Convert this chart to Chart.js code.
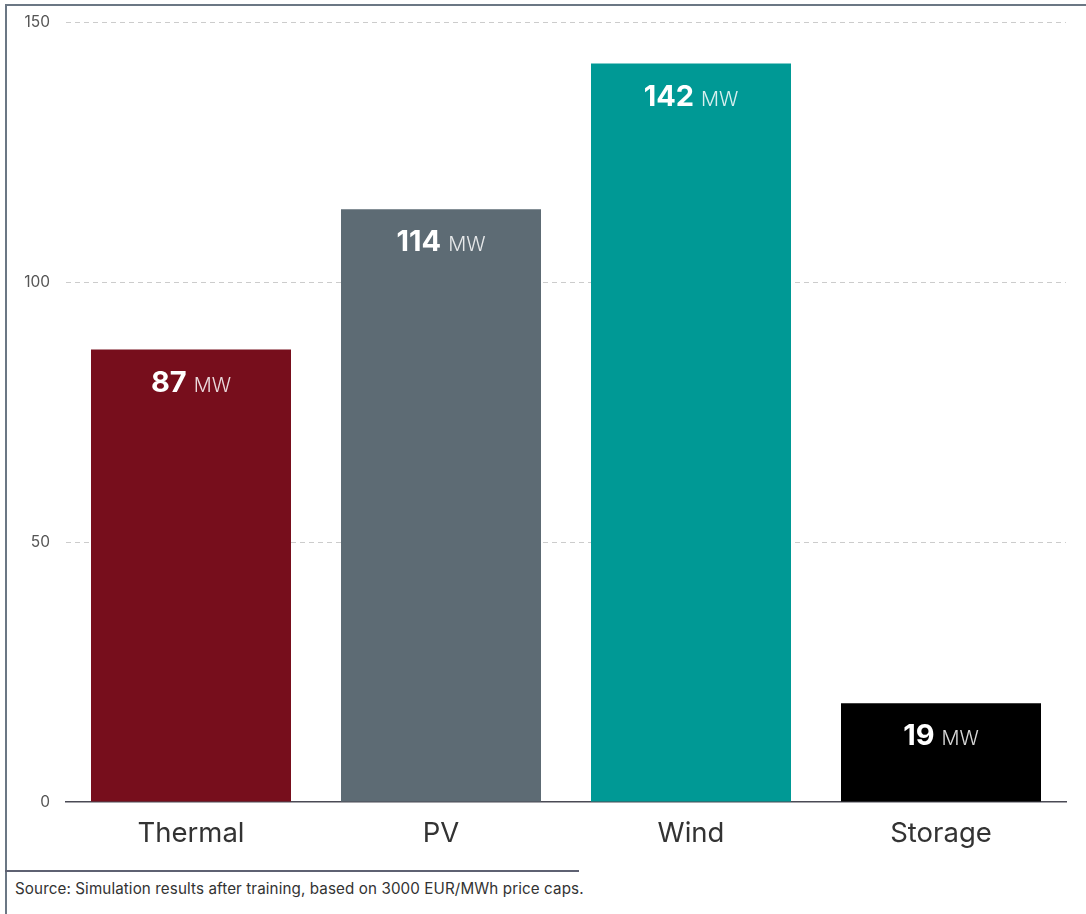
<!DOCTYPE html>
<html>
<head>
<meta charset="utf-8">
<script src="https://cdn.jsdelivr.net/npm/chart.js@4.4.1/dist/chart.umd.min.js"></script>
<style>
  html, body { margin: 0; padding: 0; background: #fff; }
  body { width: 1086px; height: 914px; position: relative; overflow: hidden; font-family: Inter, "Open Sans", sans-serif; }
  #frameTop { position: absolute; left: 5px; top: 4px; width: 1081px; height: 2px; background: #6b7784; }
  #frameLeft { position: absolute; left: 5px; top: 4px; width: 2px; height: 910px; background: #6b7784; }
  #frameBottom { position: absolute; left: 5px; top: 870px; width: 574px; height: 2px; background: #5e6172; }
  #wrap { position: absolute; left: 0; top: 0; width: 1086px; height: 860px; }
  #source { position: absolute; left: 15px; top: 879px; font-size: 15.2px; color: #333; font-family: Inter, sans-serif; letter-spacing: 0.1px; }
</style>
</head>
<body>
<div id="frameTop"></div>
<div id="frameLeft"></div>
<div id="frameBottom"></div>
<div id="wrap"><canvas id="c" width="1086" height="860"></canvas></div>
<div id="source">Source: Simulation results after training, based on 3000 EUR/MWh price caps.</div>
<script>
const categories = ["Thermal", "PV", "Wind", "Storage"];
const capacityMW = [87, 114, 142, 19];
const barColors = ["#770e1c", "#5d6b74", "#009995", "#000000"];
const unitLabel = "MW";
const yTicks = [0, 50, 100, 150];

const valueLabels = {
  id: 'valueLabels',
  afterDatasetsDraw(chart) {
    const ctx = chart.ctx;
    const meta = chart.getDatasetMeta(0);
    const ds = chart.data.datasets[0];
    meta.data.forEach((bar, i) => {
      const num = String(ds.data[i]);
      ctx.save();
      ctx.textBaseline = 'alphabetic';
      ctx.textAlign = 'left';
      ctx.font = 'bold 29px Inter, sans-serif';
      const w1 = ctx.measureText(num).width;
      ctx.font = '300 20px Inter, sans-serif';
      const gap = 7;
      const w2 = ctx.measureText(unitLabel).width;
      const total = w1 + gap + w2;
      const x0 = bar.x - total / 2;
      const yb = bar.y + 42;
      ctx.fillStyle = '#ffffff';
      ctx.font = 'bold 29px Inter, sans-serif';
      ctx.fillText(num, x0, yb);
      ctx.fillStyle = 'rgba(255,255,255,0.85)';
      ctx.font = '300 20px Inter, sans-serif';
      ctx.fillText(unitLabel, x0 + w1 + gap, yb);
      ctx.restore();
    });
  }
};

new Chart(document.getElementById('c'), {
  type: 'bar',
  data: {
    labels: categories,
    datasets: [{
      data: capacityMW,
      backgroundColor: barColors,
      borderWidth: 0,
      barPercentage: 0.8,
      categoryPercentage: 1.0
    }]
  },
  options: {
    responsive: false,
    animation: false,
    devicePixelRatio: 1,
    layout: { padding: { left: 0, right: 20, top: 22, bottom: 0 } },
    plugins: { legend: { display: false }, tooltip: { enabled: false } },
    scales: {
      x: {
        grid: { display: false, drawTicks: false },
        border: { display: true, color: '#4a4a55', width: 1.5 },
        ticks: { color: '#333', font: { size: 27.5, family: 'Inter, sans-serif' }, padding: 15 },
        afterFit(scale) { scale.height = 58; scale.paddingLeft = 0; scale.paddingRight = 0; }
      },
      y: {
        min: 0, max: 150,
        afterBuildTicks(scale) { scale.ticks = yTicks.map(v => ({ value: v })); },
        grid: {
          color: (c) => c.tick && c.tick.value === 0 ? 'rgba(0,0,0,0)' : '#cccccc',
          drawTicks: false,
          lineWidth: 1
        },
        border: { display: false, dash: [5, 4] },
        ticks: { color: '#555', font: { size: 15.5, family: 'Inter, sans-serif' }, padding: 16 },
        afterFit(scale) { scale.width = 66; scale.paddingTop = 0; scale.paddingBottom = 0; }
      }
    }
  },
  plugins: [valueLabels]
});
</script>
</body>
</html>
